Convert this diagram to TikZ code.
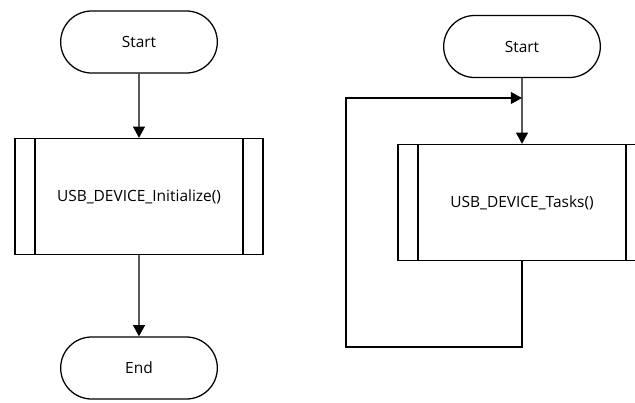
\documentclass[tikz,border=0pt]{standalone}
\usepackage{fontspec}
\setmainfont{Open Sans}
\usetikzlibrary{shapes.misc,arrows.meta}
\begin{document}
\begin{tikzpicture}
[x=0.025cm,y=-0.025cm,
  lineDecorate/.style={line width=0.9pt,-{Triangle[length=8pt,width=8.5pt]}},%
  termDecorate/.style={shape=rounded rectangle,draw,line width=0.9pt,
    minimum width=4.15cm,minimum height=1.55cm,
    font=\fontsize{11}{13}\selectfont},
  procDecorate/.style={shape=rectangle,draw,line width=0.9pt,
    minimum width=6.2cm,minimum height=2.9cm,
    font=\fontsize{11}{13}\selectfont,
    path picture={
      \draw[line width=0.9pt] ([xshift=0.5cm]path picture bounding box.north west)
        -- ([xshift=0.5cm]path picture bounding box.south west);
      \draw[line width=0.9pt] ([xshift=-0.5cm]path picture bounding box.north east)
        -- ([xshift=-0.5cm]path picture bounding box.south east);}},
  scale=1]
\useasboundingbox (0,0) rectangle (635,402);
%% terminals
\foreach \nodename/\x/\y/\txt in {
  start1/139/42/Start, end1/139/368/End, start2/522/46.5/Start}
{
  \node (\nodename) at (\x,\y) [termDecorate] {\txt};
}
%% processes
\node (init) at (139,196.5) [procDecorate] {USB\_DEVICE\_Initialize()};
\node (tasks) at (522,202.5) [procDecorate] {USB\_DEVICE\_Tasks()};
\coordinate (loopbottom) at (346,347);
\coordinate (loopjoin) at (522,98);
%% connectors
\path
\foreach \startnode/\endnode in {start1/init, init/end1, start2/tasks}
{
  (\startnode) edge[lineDecorate] (\endnode)
};
\draw[lineDecorate] (tasks.south) |- (loopbottom) |- (loopjoin);
\end{tikzpicture}
\end{document}
